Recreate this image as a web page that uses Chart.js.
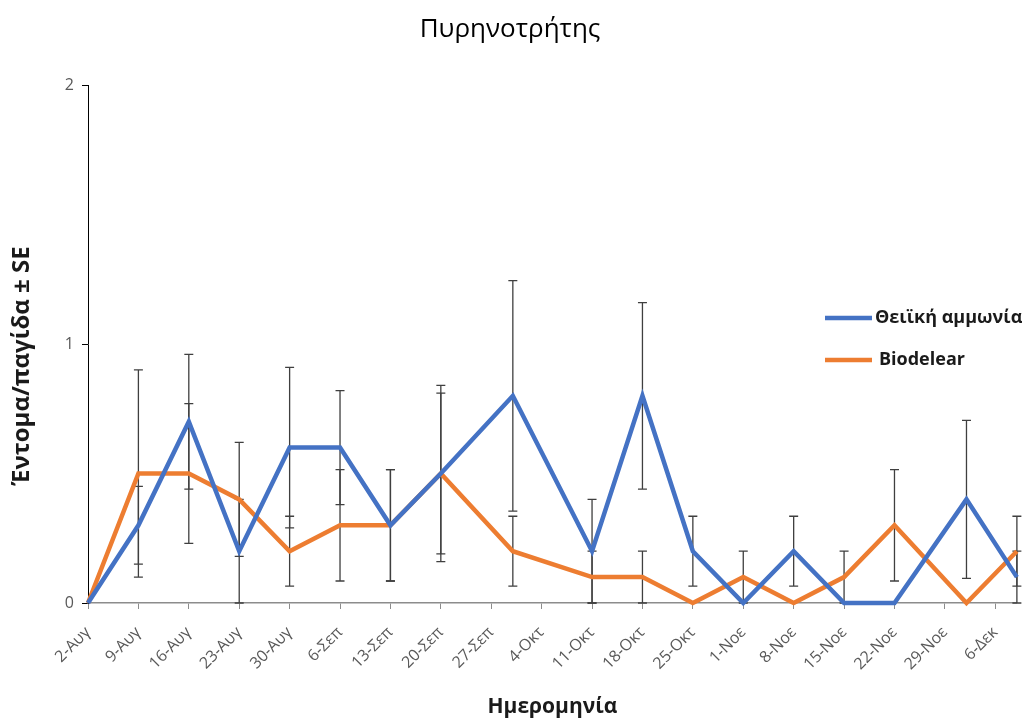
<!DOCTYPE html>
<html>
<head>
<meta charset="utf-8">
<script src="https://cdn.jsdelivr.net/npm/chart.js@4/dist/chart.umd.min.js"></script>
<style>
  html, body { margin: 0; padding: 0; background: #fff; }
</style>
</head>
<body>
<canvas id="chart" width="1023" height="724"></canvas>
<script>
// weekly tick labels on the date axis (days counted from 2-Aug)
const xLabels = ["2-Αυγ", "9-Αυγ", "16-Αυγ", "23-Αυγ", "30-Αυγ", "6-Σεπ", "13-Σεπ", "20-Σεπ", "27-Σεπ",
  "4-Οκτ", "11-Οκτ", "18-Οκτ", "25-Οκτ", "1-Νοε", "8-Νοε", "15-Νοε", "22-Νοε", "29-Νοε", "6-Δεκ"];
const sampleDays = [0, 7, 14, 21, 28, 35, 42, 49, 59, 70, 77, 84, 91, 98, 105, 112, 122, 129];
const ammonia = [0, 0.3, 0.7, 0.2, 0.6, 0.6, 0.3, 0.5, 0.8, 0.2, 0.8, 0.2, 0, 0.2, 0, 0, 0.4, 0.1];
const ammoniaSE = [0, 0.15, 0.26, 0.2, 0.31, 0.22, 0.215, 0.31, 0.445, 0.2, 0.36, 0.135, 0, 0.135, 0, 0, 0.305, 0.1];
const biodelear = [0, 0.5, 0.5, 0.4, 0.2, 0.3, 0.3, 0.5, 0.2, 0.1, 0.1, 0, 0.1, 0, 0.1, 0.3, 0, 0.2];
const biodelearSE = [0, 0.4, 0.27, 0.22, 0.135, 0.215, 0.215, 0.34, 0.135, 0.1, 0.1, 0, 0.1, 0, 0.1, 0.215, 0, 0.135];
const yTicks = [0, 1, 2];

const seriesNames = ["Θειϊκή αμμωνία", "Biodelear"];
const seriesColors = ["#4472C4", "#ED7D31"];

const FONT = "'Open Sans', sans-serif";

const errorBars = {
    id: "errorBars",
    beforeDatasetsDraw(chart) {
        const { ctx, scales: { x, y } } = chart;
        ctx.save();
        ctx.strokeStyle = "#3f3f3f";
        ctx.lineWidth = 1.3;
        [[ammonia, ammoniaSE], [biodelear, biodelearSE]].forEach(([vals, se]) => {
            vals.forEach((v, i) => {
                if (!se[i]) return;
                const px = x.getPixelForValue(sampleDays[i]);
                const top = y.getPixelForValue(v + se[i]);
                const bot = y.getPixelForValue(Math.max(0, v - se[i]));
                ctx.beginPath();
                ctx.moveTo(px, top);
                ctx.lineTo(px, bot);
                ctx.moveTo(px - 4.5, top);
                ctx.lineTo(px + 4.5, top);
                ctx.moveTo(px - 4.5, bot);
                ctx.lineTo(px + 4.5, bot);
                ctx.stroke();
            });
        });
        ctx.restore();
    }
};

// title, y-axis title and the legend sitting inside the plot
const decorations = {
    id: "decorations",
    afterDraw(chart) {
        const { ctx } = chart;
        ctx.save();
        ctx.fillStyle = "#000";
        ctx.textAlign = "center";
        ctx.textBaseline = "middle";
        ctx.font = "26px " + FONT;
        ctx.fillText("Πυρηνοτρήτης", 510, 30);

        ctx.save();
        ctx.translate(22, 366);
        ctx.rotate(-Math.PI / 2);
        ctx.font = "bold 24px " + FONT;
        ctx.fillStyle = "#1a1a1a";
        ctx.fillText("Έντομα/παγίδα ± SE", 0, 0);
        ctx.restore();

        ctx.textAlign = "left";
        ctx.font = "bold 18px " + FONT;
        seriesNames.forEach((name, i) => {
            const ly = 318 + i * 42;
            ctx.strokeStyle = seriesColors[i];
            ctx.lineWidth = 4.5;
            ctx.beginPath();
            ctx.moveTo(825, ly);
            ctx.lineTo(872, ly);
            ctx.stroke();
            ctx.fillStyle = "#1a1a1a";
            ctx.fillText(name, i === 0 ? 875 : 879, ly);
        });
        ctx.restore();
    }
};

const makeSeries = (vals, i) => ({
    label: seriesNames[i],
    data: vals.map((v, k) => ({ x: sampleDays[k], y: v })),
    borderColor: seriesColors[i],
    backgroundColor: seriesColors[i],
    borderWidth: 4.5,
    pointRadius: 0,
    tension: 0,
    clip: 6
});

new Chart(document.getElementById("chart"), {
    type: "line",
    data: { datasets: [makeSeries(ammonia, 0), makeSeries(biodelear, 1)] },
    options: {
        responsive: false,
        animation: false,
        layout: { padding: { top: 85, right: 6, left: 0, bottom: 0 } },
        plugins: { legend: { display: false }, tooltip: { enabled: false }, title: { display: false } },
        scales: {
            x: {
                type: "linear",
                min: 0,
                max: 129,
                afterBuildTicks: s => { s.ticks = xLabels.map((_, i) => ({ value: i * 7 })); },
                afterFit: s => { s.height = 121; },
                ticks: {
                    autoSkip: false,
                    maxRotation: 45,
                    minRotation: 45,
                    color: "#595959",
                    font: { family: FONT, size: 16 },
                    padding: 14,
                    callback: (v, i) => xLabels[i]
                },
                grid: { drawOnChartArea: false, tickLength: 6, color: "#8c8c8c" },
                border: { color: "#8c8c8c", width: 1.5 },
                title: {
                    display: true,
                    text: "Ημερομηνία",
                    color: "#1a1a1a",
                    font: { family: FONT, size: 21, weight: "bold" },
                    padding: { bottom: 4 }
                }
            },
            y: {
                min: 0,
                max: 2,
                afterBuildTicks: s => { s.ticks = yTicks.map(v => ({ value: v })); },
                afterFit: s => { s.width = 88; },
                ticks: { color: "#595959", font: { family: FONT, size: 16 }, padding: 8 },
                grid: { drawOnChartArea: false, tickLength: 6, color: "#000" },
                border: { color: "#000", width: 1 }
            }
        }
    },
    plugins: [errorBars, decorations]
});
</script>
</body>
</html>
